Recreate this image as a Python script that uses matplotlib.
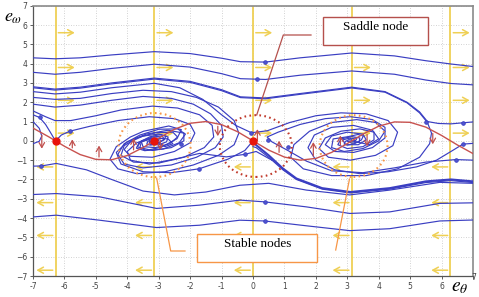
import matplotlib
matplotlib.use("Agg")
import matplotlib.pyplot as plt
from matplotlib.patches import Ellipse, Rectangle
from matplotlib.lines import Line2D

plt.rcParams['mathtext.fontset'] = 'stix'

# ---------------- data ----------------
ticks = [-7, -6, -5, -4, -3, -2, -1, 0, 1, 2, 3, 4, 5, 6, 7]

# red curve (nullcline)
red_x = [-7, -6.5, -6, -5.5, -5, -4.5, -4, -3.5, -3, -2.5, -2, -1.5, -1, -0.5, 0,
         0.5, 1, 1.5, 2, 2.5, 3, 3.5, 4, 4.5, 5, 5.5, 6, 6.5, 7]
red_y = [0.66, 0.21, -0.28, -0.71, -0.96, -0.98, -0.76, -0.35, 0.14, 0.60, 0.91, 1.0, 0.84, 0.48, 0.0,
         -0.48, -0.84, -1.0, -0.91, -0.60, -0.14, 0.35, 0.76, 0.98, 0.96, 0.71, 0.28, -0.21, -0.66]

# vertical red arrows on the red curve
rarr_x = [-6.72, -5.75, -4.9, -3.8, -2.95, -1.12, 0.14, 0.83, 1.92, 2.78, 3.63, 5.72]
rarr_y0 = [0.43, -0.51, -0.98, -0.61, 0.19, 0.90, -0.14, -0.74, -0.94, -0.35, 0.47, 0.53]
rarr_y1 = [-0.55, 0.22, -0.10, 0.28, -0.62, 0.10, 0.75, 0.15, 0.08, 0.42, -0.43, -0.32]

# yellow switching lines and arrows
yline_x = [-6.283, -3.1416, 0.0, 3.1416, 6.283]
yarr_up_y = [5.6, 3.8, 2.1, 0.4]
yarr_dn_y = [-1.35, -3.2, -4.9, -6.7]
yarr_len = 0.7

# equilibria (red dots)
eq_x = [-6.283, -3.1416, 0.0]
eq_y = [0.0, 0.0, 0.0]

# trajectories (blue)
upA_x = [-7, -6.3, -5.5, -4.5, -3.14, -2, -1, -0.4, 0.4, 1.5, 3.14, 4.5, 5.5, 6.3, 7]
upA_y = [4.30, 4.25, 4.30, 4.45, 4.62, 4.52, 4.28, 4.10, 4.08, 4.30, 4.55, 4.40, 4.15, 3.98, 3.85]
upB_y = [3.55, 3.45, 3.55, 3.75, 3.97, 3.82, 3.48, 3.22, 3.18, 3.40, 3.62, 3.45, 3.15, 2.97, 2.90]

upC_x = [-7, -6.3, -5.5, -4.5, -3.14, -2, -1, -0.4, 0.4, 1.5, 3.14, 4.2, 4.9, 5.3, 5.55, 5.9, 6.3, 7]
upC_y = [2.80, 2.68, 2.78, 3.0, 3.25, 3.08, 2.65, 2.28, 2.22, 2.45, 2.78, 2.55, 2.0, 1.5, 1.0, 0.9, 0.88, 0.98]

upD_x = [-7, -6.3, -5.5, -4.5, -3.14, -2, -1, -0.4, 0.4, 1.5, 3.14, 4.2, 4.9, 5.3, 5.55, 5.68, 5.62, 5.3,
         4.6, 3.6, 2.5, 1.6, 1.2, 1.3, 1.8, 2.5, 3.3, 3.9, 4.2, 4.0, 3.5, 2.9, 2.5, 2.55, 3.0, 3.34, 3.51,
         3.45, 3.24, 3.01, 2.9, 2.94, 3.08, 3.23, 3.3, 3.27, 3.14]
upD_y = [2.75, 2.63, 2.73, 2.95, 3.2, 3.03, 2.6, 2.24, 2.18, 2.41, 2.74, 2.52, 1.97, 1.45, 0.95, 0.4, -0.15, -0.85,
         -1.45, -1.8, -1.8, -1.45, -0.85, -0.2, 0.5, 0.95, 1.1, 0.95, 0.5, 0.0, -0.4, -0.55, -0.35, 0.1, 0.21, 0.33, 0.25,
         0.05, -0.14, -0.22, -0.17, -0.03, 0.09, 0.14, 0.11, 0.02, 0.0]

sepU_x = [-7, -6.3, -5.5, -4.5, -3.14, -2.33, -1.6, -1.0, -0.55, -0.05, 0.45, 1.17, 2.0, 2.8, 3.6, 4.3, 4.6,
          4.45, 3.9, 3.1, 2.4, 2.1, 2.3, 2.8, 3.4, 3.85, 3.85, 3.5, 3.0, 2.7, 2.8, 3.14, 3.4, 3.38, 3.15, 3.0, 3.14]
sepU_y = [2.55, 2.43, 2.52, 2.75, 2.98, 2.75, 2.15, 1.35, 0.8, 0.42, 0.52, 0.95, 1.3, 1.45, 1.4, 1.05, 0.45,
          -0.25, -0.75, -1.0, -0.85, -0.4, 0.15, 0.5, 0.62, 0.45, 0.05, -0.3, -0.4, -0.2, 0.1, 0.22, 0.15, -0.05, -0.12, -0.02, 0.0]

fE_x = [-7, -6.3, -5.5, -4.5, -3.5, -2.6, -1.8, -1.1, -0.6, -0.45, -0.6, -1.1, -1.9, -2.8, -3.7, -4.3, -4.55,
        -4.35, -3.9, -3.48, -2.68, -2.28, -2.42, -2.92, -3.44, -3.71, -3.62, -3.28, -2.94, -2.77, -2.83, -3.05,
        -3.27, -3.38, -3.35, -3.2, -3.06, -2.98, -3.01, -3.14]
fE_y = [2.25, 2.15, 2.2, 2.45, 2.62, 2.55, 2.25, 1.75, 1.05, 0.4, -0.2, -0.75, -1.25, -1.6, -1.7, -1.45, -0.95,
        -0.3, 0.2, 0.50, 0.77, 0.58, 0.11, -0.33, -0.51, -0.38, -0.07, 0.21, 0.33, 0.25, 0.05, -0.14,
        -0.22, -0.17, -0.03, 0.09, 0.14, 0.11, 0.02, 0.0]

fF_x = [-7, -6.3, -5.5, -4.5, -3.5, -2.6, -1.9, -1.35, -1.0, -0.95, -1.2, -1.8, -2.6, -3.5, -4.1, -4.3, -4.1,
        -3.6, -3.0, -2.4, -2.15, -2.35, -2.85, -3.4, -3.68, -3.55, -3.2, -2.9, -2.82, -2.97, -3.2, -3.3, -3.22, -3.14]
fF_y = [1.9, 1.75, 1.85, 2.1, 2.3, 2.2, 1.9, 1.4, 0.8, 0.2, -0.35, -0.85, -1.25, -1.4, -1.2, -0.7, -0.15,
        0.3, 0.6, 0.62, 0.35, -0.1, -0.42, -0.5, -0.3, 0.0, 0.2, 0.25, 0.1, -0.08, -0.16, -0.08, 0.03, 0.0]

fG_x = [-7, -6.6, -6.3, -5.8, -5, -4.2, -3.2, -2.4, -1.7, -1.3, -1.25, -1.55, -2.2, -3.0, -3.8, -4.2, -4.1,
        -3.7, -3.1, -2.55, -2.4, -2.65, -3.1, -3.5, -3.55, -3.3, -3.05, -3.0, -3.14]
fG_y = [1.55, 1.25, 1.05, 1.05, 1.3, 1.6, 1.8, 1.7, 1.35, 0.8, 0.2, -0.35, -0.85, -1.15, -1.1, -0.75, -0.25,
        0.15, 0.42, 0.45, 0.2, -0.15, -0.35, -0.3, -0.05, 0.12, 0.12, 0.0, 0.0]

sL_x = [-7, -6.79, -6.6, -6.45, -6.33]
sL_y = [1.35, 1.21, 0.85, 0.45, 0.12]

uL_x = [-6.28, -6.1, -5.83, -5.2, -4.3, -3.3, -2.5, -2.0, -1.85, -2.0, -2.5, -3.2, -3.9, -4.1, -3.9, -3.5,
        -3.0, -2.7, -2.75, -3.0, -3.25, -3.3, -3.14]
uL_y = [0.0, 0.3, 0.5, 0.75, 1.05, 1.25, 1.15, 0.85, 0.4, -0.1, -0.55, -0.85, -0.8, -0.45, -0.05, 0.25,
        0.35, 0.2, -0.05, -0.2, -0.2, -0.05, 0.0]

tL_x = [-7, -6.8, -6.72, -6.8, -7]
tL_y = [1.0, 0.65, 0.25, -0.02, -0.15]

u0_x = [0.0, -0.26, -0.8, -1.72, -2.6, -3.5, -4.2, -4.35, -4.0, -3.4, -2.7, -2.2, -2.2, -2.6, -3.2, -3.6,
        -3.55, -3.25, -3.14]
u0_y = [0.0, -0.5, -0.95, -1.45, -1.65, -1.6, -1.2, -0.6, -0.05, 0.35, 0.55, 0.4, 0.0, -0.35, -0.5, -0.35,
        -0.05, 0.1, 0.0]

b0_x = [0.6, 0.1, -0.26, -0.85, -1.7, -2.5, -3.3, -3.9, -4.0, -3.7, -3.2, -2.7, -2.55, -2.8, -3.14]
b0_y = [-1.0, -0.55, -0.70, -0.83, -0.65, -0.95, -1.2, -1.0, -0.55, -0.1, 0.15, 0.1, -0.15, -0.3, 0.0]

lr_x = [7, 6.45, 5.5, 4.5, 3.5, 2.5, 1.7, 1.11, 0.6, 0.45, 0.8, 1.5, 2.3, 3.1, 3.8, 4.2, 4.2, 3.8, 3.2,
        2.6, 2.3, 2.5, 3.0, 3.5, 3.6, 3.35, 2.95, 2.85, 3.1, 3.14]
lr_y = [-1.0, -0.97, -1.1, -1.4, -1.65, -1.55, -1.05, -0.5, -0.05, 0.2, 0.45, 0.85, 1.15, 1.25, 1.1, 0.7,
        0.15, -0.35, -0.6, -0.55, -0.2, 0.25, 0.45, 0.35, 0.05, -0.2, -0.2, 0.05, 0.15, 0.0]

rr_x = [7, 6.68, 6.37, 5.84, 5.2, 4.3, 3.4, 2.6, 2.0, 1.75, 1.95, 2.5, 3.2, 3.8, 4.0, 3.7, 3.14]
rr_y = [-0.13, -0.17, -0.48, -1.0, -1.35, -1.6, -1.7, -1.5, -1.0, -0.35, 0.3, 0.7, 0.8, 0.55, 0.1, -0.2, 0.0]

sepL_x = [7, 6.3, 5.5, 4.35, 3.1, 2.2, 1.38, 0.95, 0.5, 0.1, 0.0]
sepL_y = [-2.1, -2.0, -2.1, -2.45, -2.65, -2.45, -1.95, -1.43, -0.75, -0.22, 0.0]
sepL2_y = [-2.16, -2.06, -2.16, -2.5, -2.7, -2.5, -2.0, -1.5, -0.85, -0.35, -0.3]

lo3_x = [7, 5.94, 4.35, 3.08, 1.7, 0.5, -0.42, -1.5, -2.5, -3.5, -4.5, -5.3, -6.26, -6.73, -7]
lo3_y = [-2.2, -2.15, -2.55, -2.8, -2.55, -2.2, -2.3, -2.65, -2.8, -2.6, -2.0, -1.5, -1.17, -1.3, -1.31]
lo2_x = [7, 5.94, 4.35, 3.08, 1.7, 0.37, -0.42, -1.7, -3.07, -4.88, -6.26, -7]
lo2_y = [-3.21, -3.24, -3.68, -3.76, -3.42, -3.16, -3.07, -3.33, -3.5, -2.9, -2.73, -2.78]
lo1_y = [-4.10, -4.15, -4.55, -4.65, -4.40, -4.15, -4.11, -4.37, -4.49, -4.11, -3.85, -3.94]

dots_x = [0.37, 0.13, -6.79, -5.83, -6.73, -1.72, 0.37, 0.37, 6.45, 5.52, 6.68, 6.68, -0.05, -0.26, 0.48, 1.11, -2.28]
dots_y = [4.08, 3.18, 1.21, 0.50, -1.30, -1.45, -3.16, -4.15, -0.97, 0.98, 0.93, -0.17, 0.41, -0.70, 0.04, -0.31, -0.14]

# highlighted regions
circ_cx = [-3.13, 0.09, 3.2]
circ_cy = [-0.22, -0.27, -0.27]
circ_w = [2.29, 2.29, 2.16]
circ_h = [3.32, 3.2, 3.2]
circ_col = ['#F79646', '#C0392B', '#F79646']

# ---------------- figure ----------------
W, H = 479, 297
fig = plt.figure(figsize=(W / 100, H / 100), dpi=100)
ax = fig.add_axes([33 / W, 21 / H, 440 / W, 270.3 / H])
ax.set_xlim(-7, 7)
ax.set_ylim(-7, 7)
ax.set_xticks(ticks)
ax.set_yticks(ticks)
ax.set_xticklabels([str(t) for t in ticks[:-1]] + [''])
ax.tick_params(labelsize=5.5, length=2, width=0.6, colors='#444444', pad=2)
ax.grid(True, color='#C4C4C4', linestyle=(0, (1, 2)), linewidth=0.6)
ax.set_axisbelow(True)
for s in ['left', 'bottom']:
    ax.spines[s].set_color('#555555')
    ax.spines[s].set_linewidth(0.9)
for s in ['top', 'right']:
    ax.spines[s].set_color('#8A8A8A')
    ax.spines[s].set_linewidth(1.2)

ycol = '#EFD055'
for xv in yline_x:
    ax.axvline(xv, color=ycol, lw=1.3, zorder=1)
    for yv in yarr_up_y:
        ax.annotate('', xy=(xv + yarr_len, yv), xytext=(xv, yv),
                    arrowprops=dict(arrowstyle='->,head_length=0.4,head_width=0.22', color=ycol, lw=1.1),
                    zorder=2)
    for yv in yarr_dn_y:
        ax.annotate('', xy=(xv - yarr_len, yv), xytext=(xv, yv),
                    arrowprops=dict(arrowstyle='->,head_length=0.4,head_width=0.22', color=ycol, lw=1.1),
                    zorder=2)

bcol = '#3A3EC2'
blw = 0.85
thin = [(upA_x, upA_y), (upA_x, upB_y), (upC_x, upC_y), (upD_x, upD_y), (sepU_x, sepU_y),
        (fE_x, fE_y), (fF_x, fF_y), (fG_x, fG_y), (sL_x, sL_y), (uL_x, uL_y), (tL_x, tL_y),
        (u0_x, u0_y), (b0_x, b0_y), (lr_x, lr_y), (rr_x, rr_y), (sepL_x, sepL2_y),
        (lo3_x, lo3_y), (lo2_x, lo2_y), (lo2_x, lo1_y)]
for xs, ys in thin:
    ax.plot(xs, ys, color=bcol, lw=blw, zorder=3, solid_joinstyle='round')
ax.plot(sepL_x, sepL_y, color=bcol, lw=1.5, zorder=3, solid_joinstyle='round')
ax.plot(dots_x, dots_y, 'o', ms=2.6, mfc='#5055D0', mec=bcol, mew=0.6, zorder=4)

rcol = '#C8524F'
ax.plot(red_x, red_y, color=rcol, lw=1.0, zorder=5)
for xv, y0, y1 in zip(rarr_x, rarr_y0, rarr_y1):
    ax.annotate('', xy=(xv, y1), xytext=(xv, y0),
                arrowprops=dict(arrowstyle='->,head_length=0.35,head_width=0.2', color='#C0504D', lw=0.9),
                zorder=6)
ax.plot(eq_x, eq_y, 'o', ms=5, color='#E8140C', zorder=7)

for cx, cy, w, h, c in zip(circ_cx, circ_cy, circ_w, circ_h, circ_col):
    ax.add_patch(Ellipse((cx, cy), w, h, fill=False, edgecolor=c, lw=1.5,
                         linestyle=(0, (0.8, 1.6)), zorder=6))


def fx(px):
    return px / W


def fy(py):
    return 1 - py / H


# axis labels and the raised last x tick label
fig.text(fx(13), fy(17), r'$e_{\omega}$', fontsize=13, ha='center', va='center')
fig.text(fx(460), fy(287), r'$e_{\theta}$', fontsize=14, ha='center', va='center')
fig.text(fx(474), fy(277), '7', fontsize=5.5, color='#444444', ha='center', va='center')

# annotation boxes
fig.patches.append(Rectangle((fx(322.7), fy(45)), (428.3 - 322.7) / W, 28.3 / H, transform=fig.transFigure,
                             facecolor='white', edgecolor='#B5504C', lw=1.0, zorder=10))
fig.text(fx(375.5), fy(27), 'Saddle node', family='Liberation Serif', fontsize=9.5,
         ha='center', va='center', zorder=11)
fig.lines.append(Line2D([fx(311), fx(283.3), fx(256.7)], [fy(35), fy(35), fy(115)],
                        transform=fig.transFigure, color='#B5504C', lw=0.9, zorder=9))

fig.patches.append(Rectangle((fx(197.3), fy(262.3)), 120 / W, 28 / H, transform=fig.transFigure,
                             facecolor='white', edgecolor='#F79646', lw=1.0, zorder=10))
fig.text(fx(257.5), fy(244), 'Stable nodes', family='Liberation Serif', fontsize=9.5,
         ha='center', va='center', zorder=11)
fig.lines.append(Line2D([fx(185), fx(170.7), fx(156.7)], [fy(251), fy(251), fy(178.3)],
                        transform=fig.transFigure, color='#F79646', lw=0.9, zorder=9))
fig.lines.append(Line2D([fx(335.7), fx(349.5)], [fy(250), fy(179)],
                        transform=fig.transFigure, color='#F79646', lw=0.9, zorder=9))

fig.savefig('out.png', dpi=100)
